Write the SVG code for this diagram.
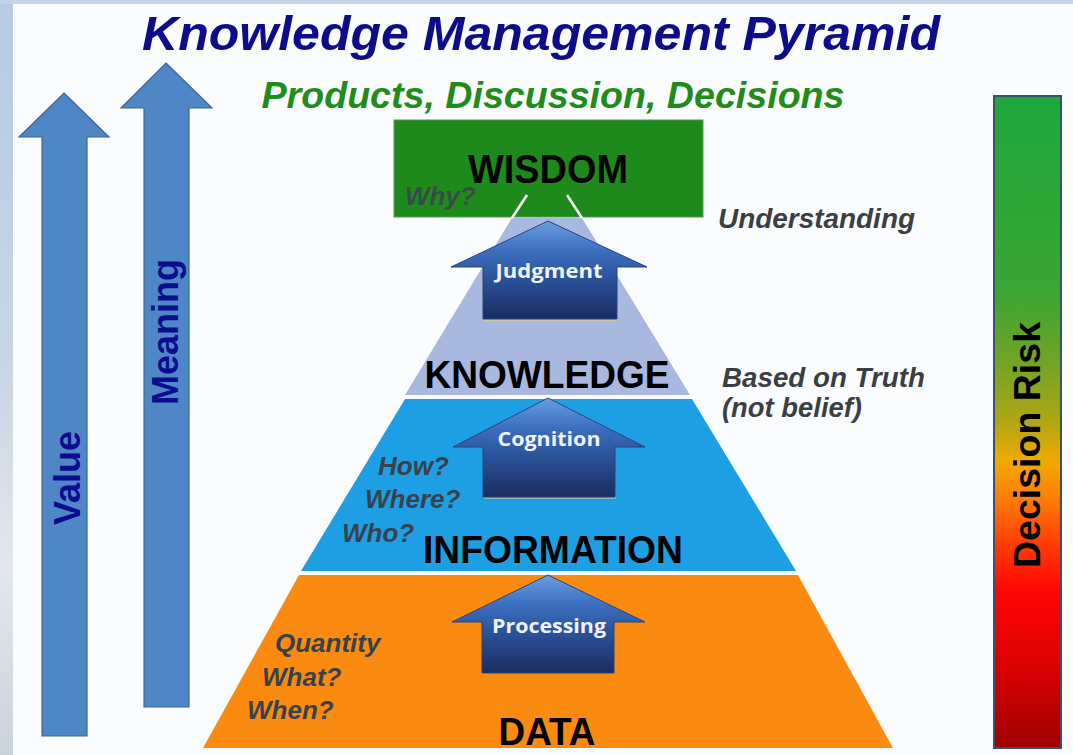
<svg xmlns="http://www.w3.org/2000/svg" width="1073" height="755" viewBox="0 0 1073 755">
<defs>
<style>
.t{font-family:"Liberation Sans",Arial,sans-serif;font-weight:bold}
.it{font-family:"Liberation Sans",Arial,sans-serif;font-weight:bold;font-style:italic}
.side{fill:#3b3f44;font-size:27px}
.q{fill:#38424c;font-size:26px}
.lvl{fill:#000;font-size:38px}
.al{font-family:"Open Sans","Liberation Sans",sans-serif;font-weight:bold;font-size:19px;fill:#eef3fb;text-anchor:middle}
.bigarrow{fill:#4f87c6;stroke:#3b6796;stroke-width:1.2}
.blk{fill:url(#ag);stroke:#27457f;stroke-width:1}
</style>
<linearGradient id="sky" x1="0" y1="0" x2="0" y2="1">
<stop offset="0" stop-color="#b7cbe5"/>
<stop offset="0.5" stop-color="#c9d6e4"/>
<stop offset="0.75" stop-color="#e2e8ee"/>
<stop offset="1" stop-color="#c9d3dc"/>
</linearGradient>
<linearGradient id="risk" x1="0" y1="0" x2="0" y2="1">
<stop offset="0" stop-color="#1ea83c"/>
<stop offset="0.3" stop-color="#3aa532"/>
<stop offset="0.42" stop-color="#78a424"/>
<stop offset="0.5" stop-color="#b0a612"/>
<stop offset="0.56" stop-color="#f2aa02"/>
<stop offset="0.62" stop-color="#ff7a08"/>
<stop offset="0.69" stop-color="#ff3a06"/>
<stop offset="0.76" stop-color="#ff0505"/>
<stop offset="0.88" stop-color="#d80202"/>
<stop offset="1" stop-color="#a00000"/>
</linearGradient>
<linearGradient id="ag" x1="0" y1="0" x2="0" y2="1">
<stop offset="0" stop-color="#6a9ee0"/>
<stop offset="0.3" stop-color="#3c6fc0"/>
<stop offset="0.55" stop-color="#2d569e"/>
<stop offset="1" stop-color="#1a2c62"/>
</linearGradient>
</defs>

<rect x="0" y="0" width="1073" height="755" fill="#c2d3ea"/>
<rect x="0" y="4" width="13" height="751" fill="url(#sky)"/>
<rect x="13" y="4" width="1060" height="751" fill="#fafcfe"/>

<g id="value-arrow">
<polygon class="bigarrow" points="64,93 109,137 87,137 87,736 42,736 42,137 19,137"/>
<text class="t" font-size="36" fill="#0c0c90" text-anchor="middle" transform="translate(80,478) rotate(-90)">Value</text>
</g>
<g id="meaning-arrow">
<polygon class="bigarrow" points="166,63 212,108 189,108 189,707 144,707 144,108 121,108"/>
<text class="t" font-size="36" fill="#0c0c90" text-anchor="middle" transform="translate(178,332) rotate(-90)">Meaning</text>
</g>

<g id="title">
<text class="it" x="541" y="50" font-size="49" fill="#0d0d8c" text-anchor="middle" textLength="798" lengthAdjust="spacingAndGlyphs">Knowledge Management Pyramid</text>
<text class="it" x="553" y="108" font-size="37" fill="#1f8c1c" text-anchor="middle" textLength="583" lengthAdjust="spacingAndGlyphs">Products, Discussion, Decisions</text>
</g>

<g id="data">
<polygon points="299,575 798,575 893,748 203,748" fill="#fb8a10"/>
<text class="it q" x="275" y="652">Quantity</text>
<text class="it q" x="262" y="686">What?</text>
<text class="it q" x="247" y="719">When?</text>
<text class="t lvl" x="547" y="745" font-size="42" text-anchor="middle" textLength="97" lengthAdjust="spacingAndGlyphs">DATA</text>
</g>

<g id="information">
<polygon points="405,399 692,399 796,571 301,571" fill="#1e9fe3"/>
<text class="it q" x="378" y="475">How?</text>
<text class="it q" x="365" y="508">Where?</text>
<text class="it q" x="342" y="542">Who?</text>
<text class="t lvl" x="553" y="563" font-size="39" text-anchor="middle" textLength="260" lengthAdjust="spacingAndGlyphs">INFORMATION</text>
</g>

<g id="knowledge">
<polygon points="512,218 582,218 690,395 405,395" fill="#a8b8de"/>
<text class="t lvl" x="547" y="388" font-size="36" text-anchor="middle" textLength="245" lengthAdjust="spacingAndGlyphs">KNOWLEDGE</text>
</g>

<g id="wisdom">
<rect x="394" y="120" width="309" height="97" fill="#1e8a1c" stroke="#4aa04a" stroke-width="1"/>
<text class="t" x="548" y="183" font-size="41" fill="#050505" text-anchor="middle" textLength="160" lengthAdjust="spacingAndGlyphs">WISDOM</text>
<text class="it" x="405" y="205" font-size="26" fill="#3a4a48">Why?</text>
<line x1="527" y1="195" x2="512" y2="218" stroke="#ffffff" stroke-width="2.5"/>
<line x1="567" y1="195" x2="582" y2="218" stroke="#ffffff" stroke-width="2.5"/>
</g>

<g id="connectors">
<g id="judgment-arrow">
<rect x="484" y="318" width="134" height="3" fill="#d8c890" opacity="0.8"/>
<polygon class="blk" points="548,221 647,267 617,267 617,319 483,319 483,267 451,267"/>
<text class="al" x="549" y="278" textLength="107" lengthAdjust="spacingAndGlyphs">Judgment</text>
</g>
<g id="cognition-arrow">
<rect x="484" y="496" width="132" height="3" fill="#c8b8a0" opacity="0.7"/>
<polygon class="blk" points="548,398 645,447 615,447 615,497 483,497 483,447 453,447"/>
<text class="al" x="549" y="446" textLength="103" lengthAdjust="spacingAndGlyphs">Cognition</text>
</g>
<g id="processing-arrow">
<polygon class="blk" points="548,575 645,622 614,622 614,673 482,673 482,622 452,622"/>
<text class="al" x="549" y="633" textLength="114" lengthAdjust="spacingAndGlyphs">Processing</text>
</g>
</g>

<g id="side-notes">
<text class="it side" x="718" y="228" textLength="197" lengthAdjust="spacingAndGlyphs">Understanding</text>
<text class="it side" x="722" y="387" textLength="203" lengthAdjust="spacingAndGlyphs">Based on Truth</text>
<text class="it side" x="722" y="417" textLength="140" lengthAdjust="spacingAndGlyphs">(not belief)</text>
</g>

<g id="decision-risk">
<rect x="994" y="96" width="67" height="652" fill="url(#risk)" stroke="#3a5272" stroke-width="2"/>
<text class="t" font-size="37" fill="#000" text-anchor="middle" transform="translate(1040,445) rotate(-90)" textLength="246" lengthAdjust="spacingAndGlyphs">Decision Risk</text>
</g>
</svg>
